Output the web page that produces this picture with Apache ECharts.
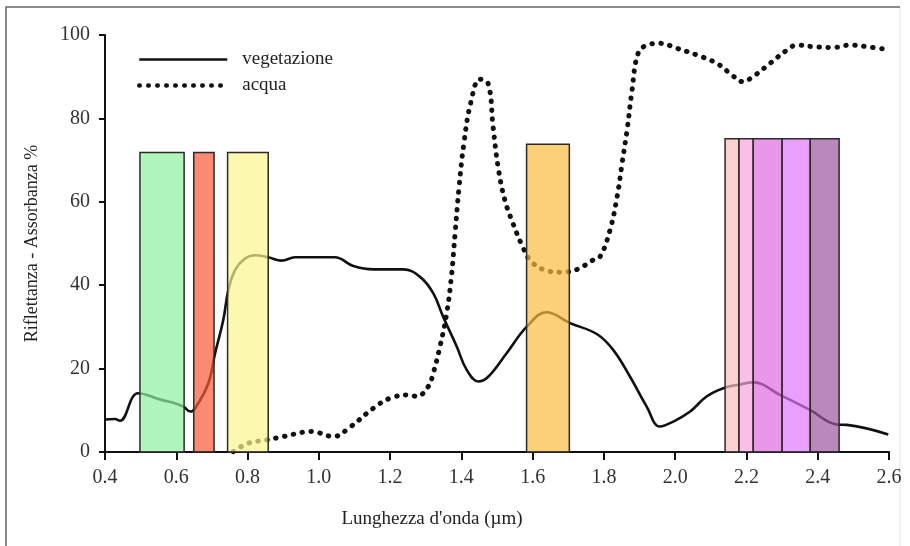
<!DOCTYPE html>
<html>
<head>
<meta charset="utf-8">
<script src="https://cdn.jsdelivr.net/npm/echarts@6/dist/echarts.min.js"></script>
<style>
  html, body { margin: 0; padding: 0; background: #fff; }
  #chart { width: 910px; height: 546px; }
</style>
</head>
<body>
<div id="chart"></div>
<script>
// curva di riflettanza della vegetazione [lunghezza d'onda (um), %]
const vegetazione = [
  [0.400, 7.8], [0.428, 7.9], [0.442, 7.5], [0.493, 14.1], [0.559, 12.5],
  [0.596, 11.7], [0.620, 10.9], [0.639, 9.7], [0.653, 10.5], [0.690, 16.5],
  [0.709, 23.7], [0.732, 31.7], [0.746, 38.8], [0.765, 43.6], [0.793, 46.4],
  [0.821, 47.2], [0.858, 46.7], [0.896, 45.9], [0.933, 46.7], [1.045, 46.7],
  [1.097, 44.6], [1.153, 43.8], [1.237, 43.8], [1.284, 42.0], [1.321, 38.1],
  [1.349, 32.4], [1.387, 25.3], [1.415, 19.7], [1.448, 16.9], [1.476, 18.1],
  [1.527, 23.7], [1.583, 30.0], [1.639, 33.5], [1.705, 30.9], [1.780, 28.3],
  [1.826, 24.5], [1.873, 18.1], [1.920, 10.9], [1.957, 6.1], [1.995, 7.3],
  [2.042, 9.7], [2.088, 13.3], [2.135, 15.3], [2.182, 16.2], [2.219, 16.7],
  [2.294, 13.7], [2.378, 10.1], [2.453, 6.6], [2.481, 6.5], [2.598, 4.2]
]

// curva dell'acqua
const acqua = [
  [0.760, 0.1], [0.802, 2.1], [0.854, 2.9], [0.900, 3.7], [0.980, 4.9],
  [1.041, 3.7], [1.088, 6.0], [1.153, 10.5], [1.200, 12.9], [1.256, 13.7],
  [1.275, 13.3], [1.307, 15.7], [1.321, 18.9], [1.340, 25.3], [1.359, 33.3],
  [1.373, 42.9], [1.382, 52.0], [1.393, 63.0], [1.407, 74.0], [1.427, 84.0],
  [1.452, 89.4], [1.475, 88.4], [1.489, 78.0], [1.503, 68.4], [1.522, 60.4],
  [1.545, 54.8], [1.570, 49.6], [1.593, 46.0], [1.629, 43.8], [1.677, 43.1],
  [1.725, 43.8], [1.769, 46.0], [1.789, 46.8], [1.817, 53.2], [1.837, 61.2],
  [1.851, 69.2], [1.865, 77.2], [1.879, 86.8], [1.896, 95.6], [1.921, 97.6],
  [1.957, 98.0], [2.005, 96.8], [2.061, 95.2], [2.117, 93.2], [2.154, 90.8],
  [2.190, 88.8], [2.218, 90.0], [2.266, 93.2], [2.314, 96.4], [2.342, 97.6],
  [2.387, 97.2], [2.443, 97.0], [2.491, 97.6], [2.538, 97.2], [2.589, 96.6]
]

// bande spettrali: inizio, fine, altezza
const bandStart = [0.498, 0.649, 0.744, 1.583, 2.140, 2.179, 2.219, 2.300, 2.379]
const bandEnd = [0.622, 0.706, 0.858, 1.703, 2.179, 2.219, 2.300, 2.379, 2.460]
const bandTop = [71.8, 71.8, 71.8, 73.8, 75.1, 75.1, 75.1, 75.1, 75.1]

const bandColors = ['#8ff29f', '#f85836', '#fbf58e', '#fbbc3e', '#fcbcbc', '#fba5de', '#e06ce0', '#de77fb', '#9c559c']

const serif = 'Liberation Serif'
const chart = echarts.init(document.getElementById('chart'))

const option = {
  animation: false,
  textStyle: { fontFamily: serif },
  grid: { left: 105, right: 21, top: 35, bottom: 94 },
  legend: {
    left: 132,
    top: 45,
    orient: 'vertical',
    itemWidth: 88,
    itemHeight: 14,
    itemGap: 7,
    data: [
      { name: 'vegetazione', lineStyle: { width: 2.6 } },
      { name: 'acqua', lineStyle: { width: 4.5, type: [0.5, 8.5], cap: 'round' } }
    ],
    itemStyle: { opacity: 0 },
    textStyle: { fontFamily: serif, fontSize: 19, color: '#222', padding: [0, 0, 0, 10] }
  },
  graphic: [
    { type: 'polyline', shape: { points: [[6, 546], [6, 7], [900, 7]] }, style: { stroke: '#666', lineWidth: 1.5, fill: null } },
    { type: 'line', shape: { x1: 900, y1: 8, x2: 900, y2: 546 }, style: { stroke: '#e4e4e4', lineWidth: 1 } }
  ],
  xAxis: {
    type: 'value',
    min: 0.4,
    max: 2.6,
    interval: 0.2,
    name: "Lunghezza d'onda (\u00b5m)",
    nameLocation: 'middle',
    nameGap: 58,
    nameTextStyle: { fontFamily: serif, fontSize: 19, color: '#222', padding: [0, 130, 0, 0] },
    axisLine: { onZero: false, lineStyle: { color: '#111', width: 2 } },
    axisTick: { length: 8, lineStyle: { color: '#111', width: 2 } },
    axisLabel: { margin: 16, fontSize: 20, color: '#333', formatter: v => v.toFixed(1) },
    splitLine: { show: false }
  },
  yAxis: {
    type: 'value',
    min: 0,
    max: 100,
    interval: 20,
    name: 'Riflettanza - Assorbanza %',
    nameLocation: 'middle',
    nameGap: 64,
    nameTextStyle: { fontFamily: serif, fontSize: 18, color: '#222' },
    axisLine: { show: true, lineStyle: { color: '#111', width: 2 } },
    axisTick: { length: 6, lineStyle: { color: '#111', width: 2 } },
    axisLabel: { margin: 15, fontSize: 20, color: '#333' },
    splitLine: { show: false }
  },
  series: [
    {
      name: 'vegetazione',
      type: 'line',
      data: vegetazione,
      symbol: 'none',
      smooth: 0.4,
      z: 2,
      lineStyle: { color: '#111', width: 2.6 },
      itemStyle: { color: '#111' }
    },
    {
      name: 'acqua',
      type: 'line',
      data: acqua,
      symbol: 'none',
      smooth: 0.4,
      z: 2,
      lineStyle: { color: '#111', width: 5, type: [0.5, 8.5], cap: 'round' },
      itemStyle: { color: '#111' }
    },
    {
      name: 'bande',
      type: 'custom',
      z: 3,
      data: bandStart.map((s, i) => [s, bandEnd[i], bandTop[i], i]),
      encode: { x: [0, 1], y: 2 },
      renderItem: (params, api) => {
        const p0 = api.coord([api.value(0), 0])
        const p1 = api.coord([api.value(1), api.value(2)])
        return {
          type: 'rect',
          shape: { x: p0[0], y: p1[1], width: p1[0] - p0[0], height: p0[1] - p1[1] },
          style: {
            fill: echarts.color.modifyAlpha(bandColors[api.value(3)], 0.7),
            stroke: '#2a2a2a',
            lineWidth: 1.5
          }
        }
      }
    }
  ]
}

chart.setOption(option)
</script>
</body>
</html>
